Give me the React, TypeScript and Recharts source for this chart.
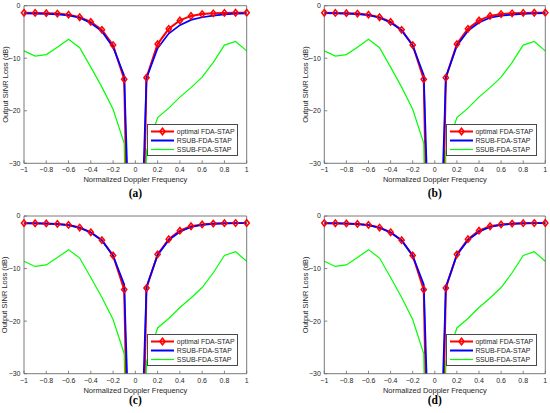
import React from 'react';
import { LineChart, Line, XAxis, YAxis, Legend } from 'recharts';

// ---- data ----
const dopplerFreq = [-1, -0.9, -0.8, -0.7, -0.6, -0.5, -0.4, -0.3, -0.2, -0.1, 0, 0.1, 0.2, 0.3, 0.4, 0.5, 0.6, 0.7, 0.8, 0.9, 1];
const xTicks = [-1, -0.8, -0.6, -0.4, -0.2, 0, 0.2, 0.4, 0.6, 0.8, 1];
const yTicks = [-30, -20, -10, 0];

const optimalLoss = [-1.35, -1.38, -1.42, -1.5, -1.7, -2.2, -3.1, -4.6, -7.5, -14.0, -120, -13.7, -7.3, -4.4, -2.8, -1.95, -1.6, -1.45, -1.37, -1.34, -1.33];
const ssubLoss = [-8.6, -9.6, -9.3, -7.9, -6.4, -8.0, -11.7, -15.5, -19.7, -26.2, -150, -27.7, -21.3, -19.5, -17.4, -15.6, -13.6, -10.8, -7.5, -6.8, -8.6];
const rsubLossA = [-1.45, -1.5, -1.55, -1.65, -1.85, -2.3, -3.3, -4.9, -7.9, -13.3, -80, -13.8, -8.1, -5.3, -3.7, -2.7, -2.2, -1.9, -1.65, -1.5, -1.45];
const rsubLossB = [-1.4, -1.45, -1.5, -1.6, -1.8, -2.3, -3.2, -4.7, -7.6, -13.2, -80, -13.6, -7.6, -4.8, -3.2, -2.3, -1.9, -1.7, -1.55, -1.45, -1.4];
const rsubLossC = [-1.4, -1.42, -1.45, -1.55, -1.75, -2.25, -3.15, -4.65, -7.6, -13.0, -80, -13.5, -7.4, -4.6, -3.0, -2.1, -1.7, -1.5, -1.42, -1.38, -1.36];
const rsubLossD = [-1.4, -1.42, -1.45, -1.55, -1.75, -2.25, -3.15, -4.65, -7.6, -13.0, -80, -13.5, -7.4, -4.6, -3.0, -2.1, -1.7, -1.5, -1.42, -1.38, -1.36];

const seriesNames = ['optimal FDA-STAP', 'RSUB-FDA-STAP', 'SSUB-FDA-STAP'];
const seriesColors = ['#ff0000', '#0000ff', '#00ff00'];
const panelLetters = ['(a)', '(b)', '(c)', '(d)'];
const xLabel = 'Normalized Doppler Frequency';
const yLabel = 'Output SINR Loss (dB)';

const SANS = '"Liberation Sans", Arial, Helvetica, sans-serif';
const SERIF = '"Liberation Serif", "Times New Roman", serif';
const AXIS_COLOR = '#6b6b6b';
const TEXT_COLOR = '#262626';

const fmt = (v: number) => (v < 0 ? '\u2212' : '') + String(Math.abs(v));

const buildRows = (rsub: number[]) =>
  dopplerFreq.map((x, i) => ({
    x,
    opt: optimalLoss[i],
    optMark: optimalLoss[i] >= -30 ? optimalLoss[i] : null,
    rsub: rsub[i],
    ssub: ssubLoss[i],
  }));

const Diamond = (props: any) => {
  const { cx, cy, index, payload } = props;
  if (cx == null || cy == null || !isFinite(cy) || payload == null || payload.optMark == null) {
    return <g key={`d${index}`} />;
  }
  const w = 2.6;
  const h = 3.2;
  return (
    <path
      key={`d${index}`}
      d={`M${cx},${cy - h}L${cx + w},${cy}L${cx},${cy + h}L${cx - w},${cy}Z`}
      fill="none"
      stroke={seriesColors[0]}
      strokeWidth={1.5}
    />
  );
};

const LegendBox = () => (
  <div
    style={{
      width: 91,
      height: 32.4,
      boxSizing: 'border-box',
      border: '0.8px solid #4a4a4a',
      background: '#ffffff',
      paddingTop: 2,
      fontFamily: SANS,
      fontSize: 6.9,
      color: TEXT_COLOR,
    }}
  >
    {seriesNames.map((name, i) => (
      <div key={name} style={{ display: 'flex', alignItems: 'center', height: 9.2, lineHeight: '9.2px', whiteSpace: 'nowrap' }}>
        <svg width={26} height={9} style={{ display: 'block', flex: 'none', marginLeft: 2 }}>
          <line x1={1} y1={4.5} x2={24} y2={4.5} stroke={seriesColors[i]} strokeWidth={i === 2 ? 1.2 : 2} />
          {i === 0 && (
            <path d="M12.5,1.3L15.1,4.5L12.5,7.7L9.9,4.5Z" fill="none" stroke={seriesColors[0]} strokeWidth={1.5} />
          )}
        </svg>
        <span style={{ marginLeft: 0.5 }}>{name}</span>
      </div>
    ))}
  </div>
);

type PanelProps = {
  left: number;
  top: number;
  width: number;
  height: number;
  yAxisW: number;
  marginTop: number;
  marginRight: number;
  xAxisH: number;
  letter: string;
  letterDy: number;
  rsub: number[];
};

const Panel = (p: PanelProps) => {
  const rows = buildRows(p.rsub);
  const plotRight = p.width - p.marginRight - 1;
  const plotBottom = p.height - p.xAxisH;
  const legendLeft = plotRight - 8.4 - 91;
  const legendTop = plotBottom - 7.3 - 32.4;
  const tickStyle = { fontSize: 7, fill: TEXT_COLOR, fontFamily: SANS };

  return (
    <div style={{ position: 'absolute', left: p.left, top: p.top, width: p.width, height: p.height }}>
      <LineChart
        width={p.width}
        height={p.height}
        data={rows}
        margin={{ top: p.marginTop, right: p.marginRight, bottom: 0, left: 0 }}
      >
        <XAxis
          xAxisId="b"
          dataKey="x"
          type="number"
          domain={[-1, 1]}
          ticks={xTicks}
          height={p.xAxisH}
          tickFormatter={fmt}
          tick={tickStyle}
          tickSize={-3}
          tickMargin={7}
          axisLine={{ stroke: AXIS_COLOR, strokeWidth: 0.9 }}
          tickLine={{ stroke: AXIS_COLOR, strokeWidth: 0.8 }}
          interval={0}
          label={(lp: any) => {
            const vb = lp.viewBox;
            const cx = vb.x + vb.width / 2;
            return (
              <g>
                <text x={cx} y={vb.y + 16.5} textAnchor="middle" dominantBaseline="central" fontSize={7.5} fill={TEXT_COLOR} fontFamily={SANS}>
                  {xLabel}
                </text>
                <text x={cx} y={vb.y + p.letterDy} textAnchor="middle" dominantBaseline="central" fontSize={11.5} fontWeight="bold" fill="#000" fontFamily={SERIF}>
                  {p.letter}
                </text>
              </g>
            );
          }}
        />
        <XAxis
          xAxisId="t"
          orientation="top"
          dataKey="x"
          type="number"
          domain={[-1, 1]}
          ticks={xTicks}
          height={1}
          tick={false}
          tickSize={-3}
          axisLine={{ stroke: AXIS_COLOR, strokeWidth: 0.9 }}
          tickLine={{ stroke: AXIS_COLOR, strokeWidth: 0.8 }}
          interval={0}
        />
        <YAxis
          yAxisId="l"
          type="number"
          domain={[-30, 0]}
          allowDataOverflow
          ticks={yTicks}
          width={p.yAxisW}
          tickFormatter={fmt}
          tick={tickStyle}
          tickSize={-3}
          tickMargin={6.5}
          axisLine={{ stroke: AXIS_COLOR, strokeWidth: 0.9 }}
          tickLine={{ stroke: AXIS_COLOR, strokeWidth: 0.8 }}
          interval={0}
          label={(lp: any) => {
            const vb = lp.viewBox;
            const x = vb.x + vb.width - 19;
            const y = vb.y + vb.height / 2;
            return (
              <text
                x={x}
                y={y}
                transform={`rotate(-90 ${x} ${y})`}
                textAnchor="middle"
                dominantBaseline="central"
                fontSize={7.5}
                fill={TEXT_COLOR}
                fontFamily={SANS}
              >
                {yLabel}
              </text>
            );
          }}
        />
        <YAxis
          yAxisId="r"
          orientation="right"
          type="number"
          domain={[-30, 0]}
          allowDataOverflow
          ticks={yTicks}
          width={1}
          tick={false}
          tickSize={-3}
          axisLine={{ stroke: AXIS_COLOR, strokeWidth: 0.9 }}
          tickLine={{ stroke: AXIS_COLOR, strokeWidth: 0.8 }}
          interval={0}
        />
        <YAxis yAxisId="m" hide type="number" domain={[-30, 0]} />
        <Legend
          layout="vertical"
          align="center"
          verticalAlign="middle"
          content={() => <LegendBox />}
          wrapperStyle={{ position: 'absolute', left: legendLeft, top: legendTop, width: 91, height: 32.4, bottom: 'auto', right: 'auto' }}
        />
        <Line
          xAxisId="b"
          yAxisId="l"
          type="linear"
          dataKey="opt"
          name={seriesNames[0]}
          stroke={seriesColors[0]}
          strokeWidth={2}
          dot={false}
          activeDot={false}
          isAnimationActive={false}
        />
        <Line
          xAxisId="b"
          yAxisId="m"
          type="linear"
          dataKey="optMark"
          stroke="none"
          strokeWidth={0}
          dot={Diamond}
          activeDot={false}
          legendType="none"
          isAnimationActive={false}
        />
        <Line
          xAxisId="b"
          yAxisId="l"
          type="linear"
          dataKey="rsub"
          name={seriesNames[1]}
          stroke={seriesColors[1]}
          strokeWidth={1.7}
          dot={false}
          activeDot={false}
          isAnimationActive={false}
        />
        <Line
          xAxisId="b"
          yAxisId="l"
          type="linear"
          dataKey="ssub"
          name={seriesNames[2]}
          stroke={seriesColors[2]}
          strokeWidth={1.2}
          dot={false}
          activeDot={false}
          isAnimationActive={false}
        />
      </LineChart>
    </div>
  );
}

export default function App() {
  return (
    <div style={{ position: 'absolute', left: 0, top: 0, width: 550, height: 413, background: '#ffffff', overflow: 'hidden' }}>
      <Panel left={0} top={0} width={275} height={206} yAxisW={24} marginTop={4.7} marginRight={27.3} xAxisH={42.7} letter={panelLetters[0]} letterDy={30} rsub={rsubLossA} />
      <Panel left={275} top={0} width={275} height={206} yAxisW={49.3} marginTop={4.7} marginRight={3.7} xAxisH={42.7} letter={panelLetters[1]} letterDy={30} rsub={rsubLossB} />
      <Panel left={0} top={206} width={275} height={207} yAxisW={24} marginTop={9} marginRight={27.3} xAxisH={39.3} letter={panelLetters[2]} letterDy={26.6} rsub={rsubLossC} />
      <Panel left={275} top={206} width={275} height={207} yAxisW={49.3} marginTop={9} marginRight={3.7} xAxisH={39.3} letter={panelLetters[3]} letterDy={26.6} rsub={rsubLossD} />
    </div>
  );
}
